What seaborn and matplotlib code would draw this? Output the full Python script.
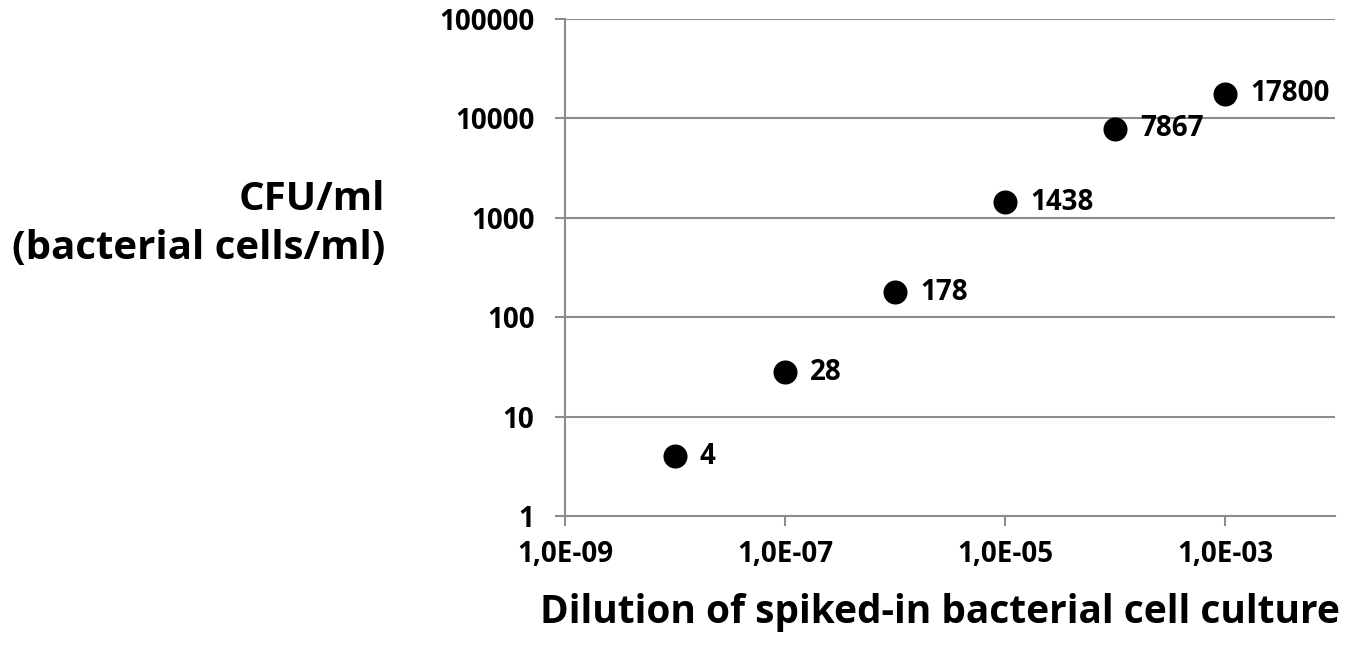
import matplotlib
matplotlib.use("Agg")
import matplotlib.pyplot as plt
import matplotlib.ticker as mticker
import seaborn as sns
import pandas as pd

dilution = [1e-8, 1e-7, 1e-6, 1e-5, 1e-4, 1e-3]
cfu = [4, 28, 178, 1438, 7867, 17800]
labels = ["4", "28", "178", "1438", "7867", "17800"]
x_ticks = [1e-9, 1e-7, 1e-5, 1e-3]
x_ticklabels = ["1,0E-09", "1,0E-07", "1,0E-05", "1,0E-03"]
y_ticks = [1, 10, 100, 1000, 10000, 100000]
y_ticklabels = ["1", "10", "100", "1000", "10000", "100000"]

sns.set_theme(style="white")
plt.rcParams['font.family'] = ['Open Sans', 'DejaVu Sans']
plt.rcParams['font.weight'] = 'bold'
plt.rcParams['text.color'] = 'black'
plt.rcParams['xtick.labelcolor'] = 'black'
plt.rcParams['ytick.labelcolor'] = 'black'

df = pd.DataFrame({"dilution": dilution, "cfu": cfu})

fig = plt.figure(figsize=(13.57, 6.53), dpi=100)
ax = fig.add_axes([565/1357, (653-516)/653, (1335-565)/1357, (516-19)/653])

sns.scatterplot(data=df, x="dilution", y="cfu", ax=ax, s=300, color="black",
                edgecolor="black", linewidth=0, zorder=3)
ax.set_xscale("log")
ax.set_yscale("log")
ax.set_xlim(1e-9, 1e-2)
ax.set_ylim(1, 1e5)

ax.xaxis.set_major_locator(mticker.FixedLocator(x_ticks))
ax.xaxis.set_major_formatter(mticker.FixedFormatter(x_ticklabels))
ax.xaxis.set_minor_locator(mticker.NullLocator())
ax.yaxis.set_major_locator(mticker.FixedLocator(y_ticks))
ax.yaxis.set_major_formatter(mticker.FixedFormatter(y_ticklabels))
ax.yaxis.set_minor_locator(mticker.NullLocator())

grey = "#8c8c8c"
ax.grid(axis="y", color=grey, linewidth=1.5)
ax.grid(axis="x", visible=False)
for side in ["top", "right"]:
    ax.spines[side].set_visible(False)
for side in ["left", "bottom"]:
    ax.spines[side].set_color(grey)
    ax.spines[side].set_linewidth(1.5)
ax.tick_params(axis="both", which="major", length=7, width=1.5, color=grey,
               direction="out", bottom=True, left=True, labelsize=20,
               labelcolor="black")
ax.tick_params(axis="x", pad=10)
ax.tick_params(axis="y", pad=15)
for lab in ax.get_xticklabels() + ax.get_yticklabels():
    lab.set_fontweight("bold")

for xv, yv, t in zip(dilution, cfu, labels):
    ax.annotate(t, (xv, yv), xytext=(18, 0), textcoords="offset points",
                va="center", ha="left", fontsize=20, fontweight="bold", color="black")

ax.set_xlabel("")
ax.set_ylabel("")
fig.text(1340/1357, 1 - 612/653, "Dilution of spiked-in bacterial cell culture",
         ha="right", va="center", fontsize=28, fontweight="bold", color="black")
fig.text(385/1357, 1 - 224/653, "CFU/ml\n(bacterial cells/ml)",
         ha="right", va="center", fontsize=29, fontweight="bold", linespacing=1.32,
         multialignment="right", color="black")

fig.savefig("out.png", dpi=100)
